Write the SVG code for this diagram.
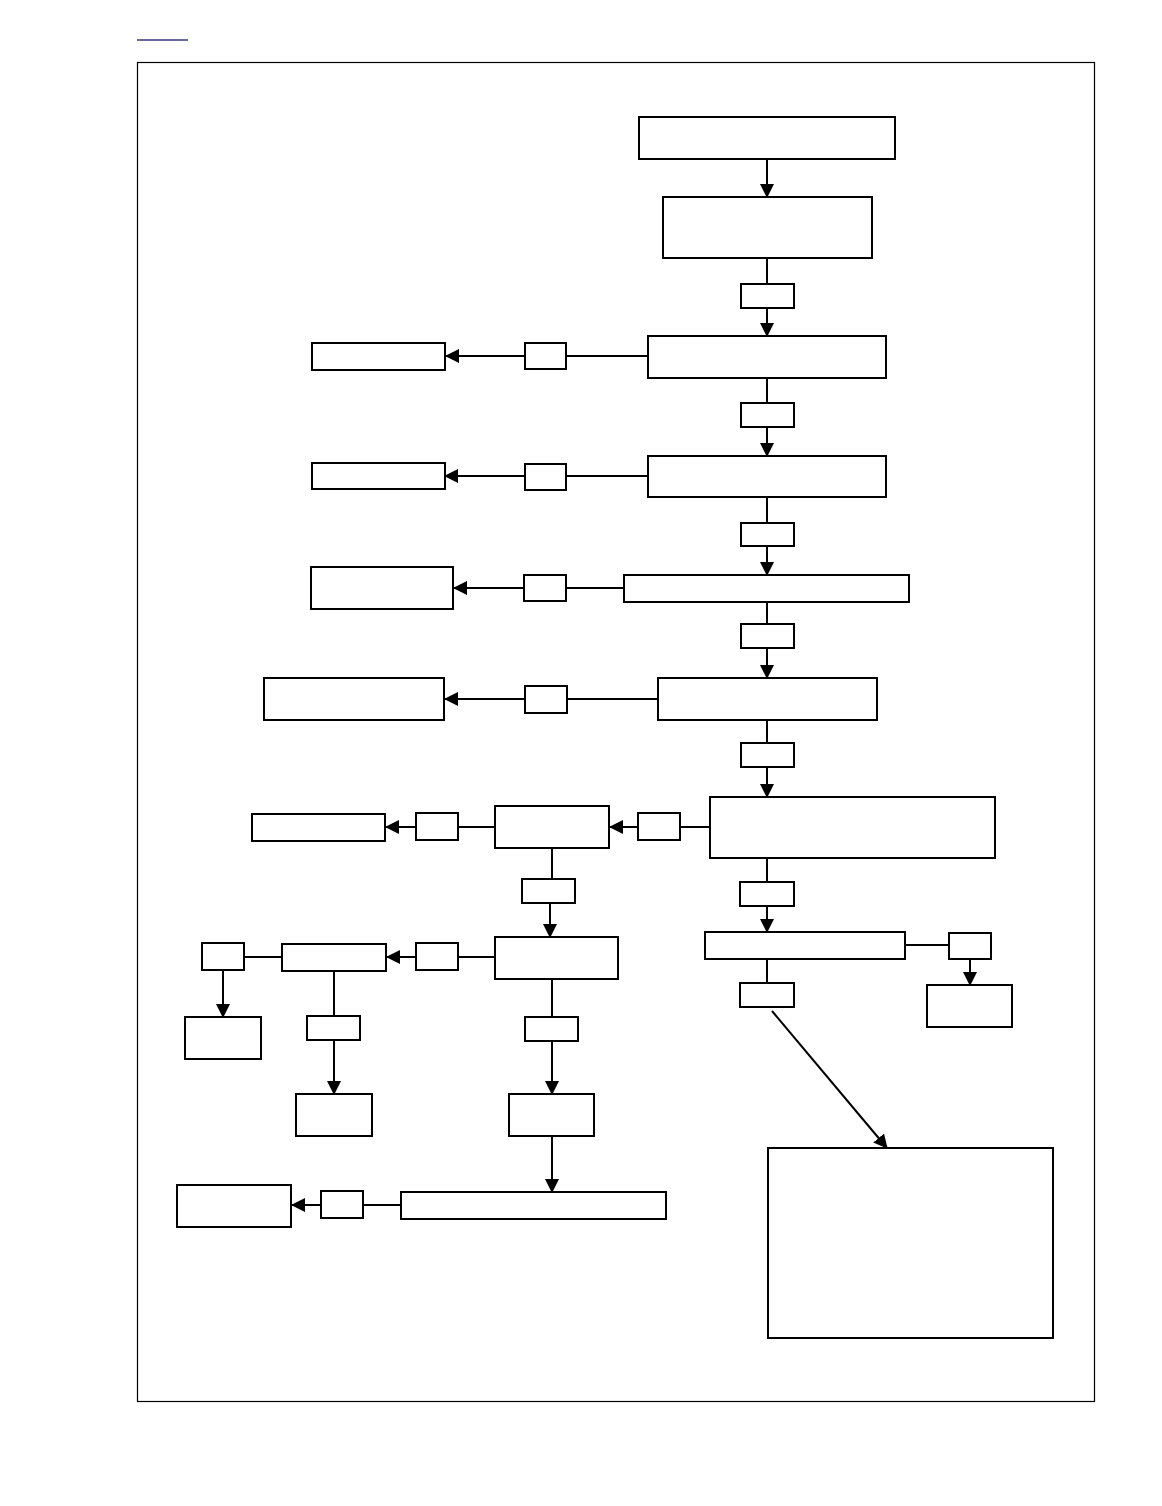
<svg xmlns="http://www.w3.org/2000/svg" width="1162" height="1506" viewBox="0 0 1162 1506">
<style>
.b{fill:#fff;stroke:#000;stroke-width:2}
.c line{stroke:#000;stroke-width:2}
.a{marker-end:url(#ah)}
</style>
<defs>
<marker id="ah" markerUnits="userSpaceOnUse" markerWidth="14" markerHeight="14" refX="13" refY="7" orient="auto">
<path d="M0,0 L14,7 L0,14 z" fill="#000"/>
</marker>
</defs>
<rect width="1162" height="1506" fill="#fff"/>
<line x1="137" y1="40" x2="188" y2="40" stroke="#3a3a7a" stroke-width="1.5"/>
<rect id="frame" x="137.5" y="62.5" width="957" height="1339" fill="none" stroke="#000" stroke-width="1.2"/>
<g class="c">
<line class="a" x1="767" y1="159" x2="767" y2="197"/>
<line x1="767" y1="258" x2="767" y2="284"/>
<line class="a" x1="767" y1="308" x2="767" y2="336"/>
<line x1="648" y1="356" x2="566" y2="356"/>
<line class="a" x1="525" y1="356" x2="446" y2="356"/>
<line x1="767" y1="378" x2="767" y2="403"/>
<line class="a" x1="767" y1="427" x2="767" y2="456"/>
<line x1="648" y1="476" x2="566" y2="476"/>
<line class="a" x1="525" y1="476" x2="445" y2="476"/>
<line x1="767" y1="497" x2="767" y2="523"/>
<line class="a" x1="767" y1="546" x2="767" y2="575"/>
<line x1="624" y1="588" x2="566" y2="588"/>
<line class="a" x1="524" y1="588" x2="454" y2="588"/>
<line x1="767" y1="602" x2="767" y2="624"/>
<line class="a" x1="767" y1="648" x2="767" y2="678"/>
<line x1="658" y1="699" x2="567" y2="699"/>
<line class="a" x1="525" y1="699" x2="445" y2="699"/>
<line x1="767" y1="720" x2="767" y2="743"/>
<line class="a" x1="767" y1="767" x2="767" y2="797"/>
<line x1="710" y1="827" x2="680" y2="827"/>
<line class="a" x1="638" y1="827" x2="610" y2="827"/>
<line x1="495" y1="827" x2="458" y2="827"/>
<line class="a" x1="416" y1="827" x2="386" y2="827"/>
<line x1="552" y1="848" x2="552" y2="879"/>
<line class="a" x1="550" y1="903" x2="550" y2="937"/>
<line x1="495" y1="957" x2="458" y2="957"/>
<line class="a" x1="416" y1="957" x2="387" y2="957"/>
<line x1="282" y1="957" x2="244" y2="957"/>
<line class="a" x1="223" y1="970" x2="223" y2="1017"/>
<line x1="334" y1="971" x2="334" y2="1016"/>
<line class="a" x1="334" y1="1040" x2="334" y2="1094"/>
<line x1="552" y1="979" x2="552" y2="1017"/>
<line class="a" x1="552" y1="1041" x2="552" y2="1094"/>
<line class="a" x1="552" y1="1136" x2="552" y2="1192"/>
<line x1="401" y1="1205" x2="363" y2="1205"/>
<line class="a" x1="321" y1="1205" x2="292" y2="1205"/>
<line x1="767" y1="858" x2="767" y2="882"/>
<line class="a" x1="767" y1="906" x2="767" y2="932"/>
<line x1="905" y1="945" x2="949" y2="945"/>
<line class="a" x1="970" y1="959" x2="970" y2="985"/>
<line x1="767" y1="959" x2="767" y2="983"/>
<line class="a" x1="772" y1="1011" x2="887" y2="1148"/>
</g>
<g id="n1"><rect class="b" x="639" y="117" width="256" height="42"/></g>
<g id="n2"><rect class="b" x="663" y="197" width="209" height="61"/></g>
<g id="l1"><rect class="b" x="741" y="284" width="53" height="24"/></g>
<g id="n3"><rect class="b" x="648" y="336" width="238" height="42"/></g>
<g id="l2"><rect class="b" x="525" y="343" width="41" height="26"/></g>
<g id="n4"><rect class="b" x="312" y="343" width="133" height="27"/></g>
<g id="l3"><rect class="b" x="741" y="403" width="53" height="24"/></g>
<g id="n5"><rect class="b" x="648" y="456" width="238" height="41"/></g>
<g id="l4"><rect class="b" x="525" y="464" width="41" height="26"/></g>
<g id="n6"><rect class="b" x="312" y="463" width="133" height="26"/></g>
<g id="l5"><rect class="b" x="741" y="523" width="53" height="23"/></g>
<g id="n7"><rect class="b" x="624" y="575" width="285" height="27"/></g>
<g id="l6"><rect class="b" x="524" y="575" width="42" height="26"/></g>
<g id="n8"><rect class="b" x="311" y="567" width="142" height="42"/></g>
<g id="l7"><rect class="b" x="741" y="624" width="53" height="24"/></g>
<g id="n9"><rect class="b" x="658" y="678" width="219" height="42"/></g>
<g id="l8"><rect class="b" x="525" y="686" width="42" height="27"/></g>
<g id="n10"><rect class="b" x="264" y="678" width="180" height="42"/></g>
<g id="l9"><rect class="b" x="741" y="743" width="53" height="24"/></g>
<g id="n11"><rect class="b" x="710" y="797" width="285" height="61"/></g>
<g id="l10"><rect class="b" x="638" y="813" width="42" height="27"/></g>
<g id="n12"><rect class="b" x="495" y="806" width="114" height="42"/></g>
<g id="l11"><rect class="b" x="416" y="813" width="42" height="27"/></g>
<g id="n13"><rect class="b" x="252" y="814" width="133" height="27"/></g>
<g id="l12"><rect class="b" x="522" y="879" width="53" height="24"/></g>
<g id="n14"><rect class="b" x="495" y="937" width="123" height="42"/></g>
<g id="l13"><rect class="b" x="416" y="943" width="42" height="27"/></g>
<g id="n15"><rect class="b" x="282" y="944" width="104" height="27"/></g>
<g id="l14"><rect class="b" x="202" y="943" width="42" height="27"/></g>
<g id="n16"><rect class="b" x="185" y="1017" width="76" height="42"/></g>
<g id="l15"><rect class="b" x="307" y="1016" width="53" height="24"/></g>
<g id="n17"><rect class="b" x="296" y="1094" width="76" height="42"/></g>
<g id="l16"><rect class="b" x="525" y="1017" width="53" height="24"/></g>
<g id="n18"><rect class="b" x="509" y="1094" width="85" height="42"/></g>
<g id="n19"><rect class="b" x="401" y="1192" width="265" height="27"/></g>
<g id="l17"><rect class="b" x="321" y="1191" width="42" height="27"/></g>
<g id="n20"><rect class="b" x="177" y="1185" width="114" height="42"/></g>
<g id="l18"><rect class="b" x="740" y="882" width="54" height="24"/></g>
<g id="n21"><rect class="b" x="705" y="932" width="200" height="27"/></g>
<g id="l19"><rect class="b" x="949" y="933" width="42" height="26"/></g>
<g id="n22"><rect class="b" x="927" y="985" width="85" height="42"/></g>
<g id="l20"><rect class="b" x="740" y="983" width="54" height="24"/></g>
<g id="n23"><rect class="b" x="768" y="1148" width="285" height="190"/></g>
</svg>
